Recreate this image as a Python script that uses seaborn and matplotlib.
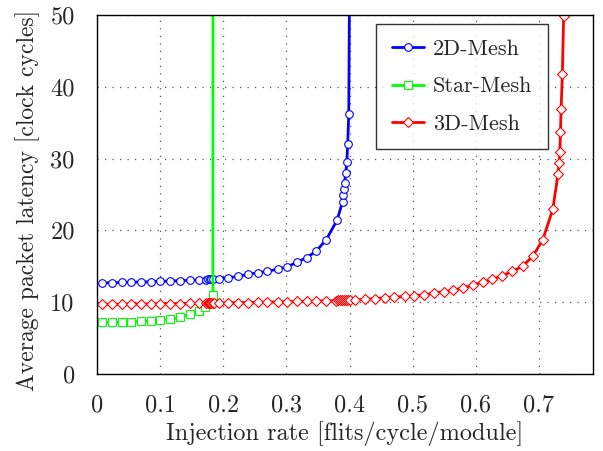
import matplotlib
matplotlib.use("Agg")
import matplotlib.pyplot as plt
import seaborn as sns
import pandas as pd

# ---- data ----
mesh2d_x = [0.008, 0.023, 0.039, 0.054, 0.070, 0.085, 0.100, 0.116, 0.131, 0.147, 0.162,
            0.172, 0.176, 0.179, 0.181, 0.183, 0.193, 0.208, 0.224, 0.239, 0.255, 0.270,
            0.286, 0.301, 0.317, 0.332, 0.347, 0.363, 0.380, 0.389, 0.390, 0.391, 0.392,
            0.394, 0.3956, 0.397, 0.3987, 0.401]
mesh2d_y = [12.7, 12.7, 12.75, 12.8, 12.8, 12.85, 12.9, 12.95, 13.0, 13.05, 13.1,
            13.15, 13.2, 13.2, 13.25, 13.25, 13.3, 13.4, 13.6, 13.9, 14.1, 14.3,
            14.6, 14.9, 15.6, 16.2, 17.1, 18.7, 21.4, 24.0, 24.9, 25.8, 26.6,
            28.0, 29.5, 32.0, 36.2, 70.0]

star_x = [0.008, 0.023, 0.039, 0.054, 0.070, 0.085, 0.100, 0.116, 0.131, 0.147, 0.162,
          0.171, 0.1835, 0.1837]
star_y = [7.2, 7.2, 7.2, 7.25, 7.35, 7.4, 7.5, 7.6, 7.9, 8.3, 8.8,
          9.3, 11.0, 70.0]

mesh3d_x = [0.008, 0.023, 0.039, 0.054, 0.070, 0.085, 0.100, 0.116, 0.131, 0.147, 0.162,
            0.172, 0.175, 0.177, 0.179, 0.181, 0.183, 0.185, 0.193, 0.208, 0.224, 0.239,
            0.255, 0.270, 0.286, 0.301, 0.317, 0.332, 0.347, 0.363, 0.378, 0.382, 0.385,
            0.388, 0.391, 0.394, 0.397, 0.400, 0.409, 0.425, 0.440, 0.456, 0.471, 0.487,
            0.502, 0.518, 0.533, 0.549, 0.564, 0.580, 0.595, 0.611, 0.626, 0.642, 0.658,
            0.674, 0.690, 0.706, 0.722, 0.730, 0.732, 0.733, 0.734, 0.735, 0.737, 0.739,
            0.741]
mesh3d_y = [9.7, 9.7, 9.7, 9.75, 9.75, 9.75, 9.8, 9.8, 9.8, 9.85, 9.85,
            9.9, 9.9, 9.9, 9.9, 9.9, 9.9, 9.9, 9.9, 9.9, 9.95, 9.95,
            10.0, 10.0, 10.05, 10.05, 10.1, 10.1, 10.15, 10.2, 10.2, 10.25, 10.25,
            10.25, 10.25, 10.25, 10.25, 10.3, 10.3, 10.4, 10.5, 10.6, 10.7, 10.8,
            10.9, 11.05, 11.25, 11.45, 11.7, 12.0, 12.4, 12.8, 13.2, 13.7, 14.3,
            15.0, 16.4, 18.7, 23.0, 27.8, 29.4, 30.9, 33.7, 36.9, 41.8, 49.8,
            70.0]

series_names = ["2D-Mesh", "Star-Mesh", "3D-Mesh"]
colors = ["#0000ff", "#00ff00", "#ff0000"]
markers = ["o", "s", "D"]

df = pd.concat([
    pd.DataFrame({"x": mesh2d_x, "y": mesh2d_y, "net": series_names[0]}),
    pd.DataFrame({"x": star_x, "y": star_y, "net": series_names[1]}),
    pd.DataFrame({"x": mesh3d_x, "y": mesh3d_y, "net": series_names[2]}),
], ignore_index=True)

sns.set_style("white")
plt.rcParams["font.family"] = ["cmr10", "DejaVu Serif"]
plt.rcParams["mathtext.fontset"] = "cm"
plt.rcParams["axes.formatter.use_mathtext"] = True

fig = plt.figure(figsize=(6.03, 4.51), dpi=100)
ax = fig.add_axes([97/603, 1 - 374/451, (593-97)/603, (374-15)/451])

for name, c, m in zip(series_names, colors, markers):
    sub = df[df["net"] == name]
    ms = 5.5 if m != "D" else 5.0
    sns.lineplot(data=sub, x="x", y="y", ax=ax, color=c, lw=2.0, sort=False,
                 marker=m, markersize=ms, markerfacecolor="white",
                 markeredgecolor=c, markeredgewidth=0.8, label=name,
                 estimator=None)

FS = 17.5
ax.set_xlim(0, 0.7855)
ax.set_ylim(0, 50)
ax.set_xticks([0, 0.1, 0.2, 0.3, 0.4, 0.5, 0.6, 0.7])
ax.set_xticklabels(["0", "0.1", "0.2", "0.3", "0.4", "0.5", "0.6", "0.7"])
ax.set_yticks([0, 10, 20, 30, 40, 50])
ax.set_yticklabels(["0", "10", "20", "30", "40", "50"])
ax.grid(True, color="#555555", linestyle=(0, (1, 5)), linewidth=0.9)
ax.set_axisbelow(True)
for s in ax.spines.values():
    s.set_color("black")
    s.set_linewidth(1.0)
ax.tick_params(axis="both", direction="out", length=6.5, width=0.8, labelsize=FS,
               color="black")
ax.tick_params(axis="x", pad=8.5)
ax.tick_params(axis="y", pad=9.5)
ax.set_xlabel("Injection rate [flits/cycle/module]", fontsize=FS, labelpad=3)
ax.set_ylabel("Average packet latency [clock cycles]", fontsize=17)
ax.yaxis.set_label_coords((40 - 97) / 496, (374 - 200) / 359)

leg = ax.legend(loc="upper right", bbox_to_anchor=((548-97)/496, (374-24)/359),
                borderaxespad=0, fontsize=16,
                frameon=True, fancybox=False, edgecolor="black", handlelength=1.45,
                borderpad=0.7, labelspacing=0.8, handletextpad=0.4)
leg.get_frame().set_linewidth(1.0)

fig.savefig("out.png", dpi=100)
